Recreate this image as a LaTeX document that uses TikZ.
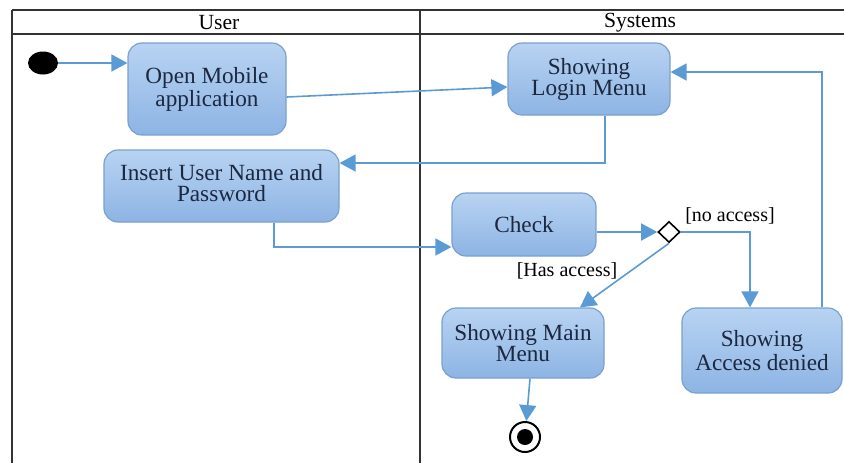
\documentclass[tikz,border=0pt]{standalone}
\usepackage{fontspec}
\setmainfont{Liberation Serif}
\usetikzlibrary{arrows.meta,shapes.geometric}

\definecolor{flowblue}{HTML}{5B9BD5}
\definecolor{boxtop}{HTML}{B8D3F2}
\definecolor{boxbot}{HTML}{8DB4E4}
\definecolor{boxline}{HTML}{7AA0CF}
\definecolor{inkblue}{HTML}{1C2740}

\begin{document}
\begin{tikzpicture}[x=0.5pt,y=-0.5pt,
  state/.style={draw=boxline, line width=0.6pt, rounded corners=7pt, top color=boxtop,
    bottom color=boxbot, text=inkblue, align=center, inner sep=2pt,
    font=\fontsize{11.6}{10.5}\selectfont},
  flow/.style={flowblue, line width=0.8pt, -{Triangle[length=8pt,width=8.5pt]}},
  guard/.style={font=\fontsize{10}{11}\selectfont, inner sep=1pt},
  lane/.style={black!80, line width=1.1pt}]
  \useasboundingbox (0,0) rectangle (844,463);

  % swimlanes
  \draw[lane] (12,10)--(844,10);
  \draw[lane] (12,34)--(844,34);
  \draw[lane] (12,10)--(12,463);
  \draw[lane] (420,10)--(420,463);
  \node[font=\fontsize{10.8}{12}\selectfont] (userlane) at (219,22.5) {User};
  \node[font=\fontsize{10.8}{12}\selectfont] (syslane) at (640,22.5) {Systems};

  \node[ellipse, fill=black, minimum width=15pt, minimum height=11.5pt, inner sep=0pt] (start) at (43,63) {};
  \node[state, minimum width=79pt, minimum height=46pt] (open) at (207,89) {Open Mobile\\application};
  \node[state, minimum width=81pt, minimum height=36pt] (login) at (589,79) {Showing\\Login Menu};
  \node[state, minimum width=117.5pt, minimum height=36pt] (insert) at (221.5,186) {Insert User Name and\\Password\\[-7pt]};
  \node[state, minimum width=72pt, minimum height=31.5pt] (check) at (524,224.5) {Check};
  \node[diamond, draw=black, line width=0.8pt, fill=white, minimum width=11pt, minimum height=10.5pt, inner sep=0pt] (dec) at (669,232) {};
  \node[state, minimum width=81pt, minimum height=35pt] (mainmenu) at (523,343) {Showing Main\\Menu};
  \node[state, minimum width=80pt, minimum height=42.5pt] (denied) at (762,350.5) {Showing\\Access denied};
  \node[circle, draw=black, line width=1pt, fill=white, minimum size=15pt, inner sep=0pt] (stop) at (525,437) {};
  \fill[black] (stop) circle (4pt);

  \node[guard] (noacc) at (730,216) {[no access]};
  \node[guard] (hasacc) at (567,271) {[Has access]};

  \draw[flow] (start) -- (start -| open.west);
  \draw[flow] ([yshift=-4pt]open.east) -- ([yshift=-4pt]login.west);
  \draw[flow] ([xshift=8pt]login.south) |- ([yshift=11.5pt]insert.east);
  \draw[flow] ([xshift=26.25pt]insert.south) |- ([yshift=-11.25pt]check.west);
  \draw[flow] (check.east |- dec.west) -- (dec.west);
  \draw[flow] (dec.east) -| ([xshift=-6pt]denied.north);
  \draw[flow] (dec.south) -- ([xshift=28.5pt]mainmenu.north);
  \draw[flow] ([xshift=30pt]denied.north) |- ([yshift=3.5pt]login.east);
  \draw[flow] ([xshift=3.5pt]mainmenu.south) -- (stop);
\end{tikzpicture}
\end{document}
